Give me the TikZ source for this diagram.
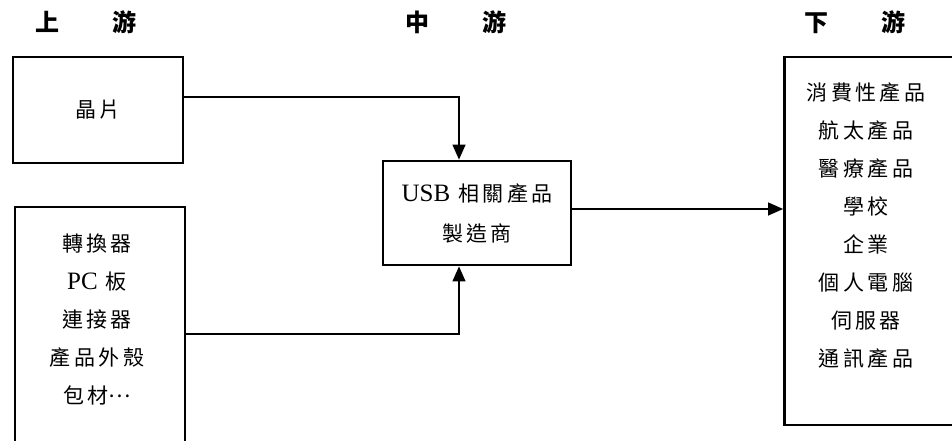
\documentclass[tikz,border=0pt]{standalone}
\usepackage{fontspec}
\setmainfont{Liberation Serif}
\newfontfamily\cjk{Noto Sans CJK TC}
\usepackage{tikz}
\usetikzlibrary{arrows.meta}

\newcommand{\lat}[1]{{\rmfamily\fontsize{25}{38}\selectfont #1}}

\begin{document}
\begin{tikzpicture}
    [x=1pt,y=-1pt,line join=miter,
     box/.style={draw,line width=2.8pt,inner sep=0pt,align=center,
       font=\cjk\addfontfeatures{LetterSpace=16}\fontsize{21}{40}\selectfont},
     flow/.style={line width=1.3pt,-{Triangle[length=15pt,width=13pt]}},
     head/.style={font=\cjk\bfseries\fontsize{24}{24}\selectfont},
     list/.style={align=center,
       font=\cjk\addfontfeatures{LetterSpace=16}\fontsize{21}{38}\selectfont}]

    \clip (0,0) rectangle (952,441);

    % column titles
    \node[head] (up)   at ( 86,22) {上\hspace{53pt}游};
    \node[head] (mid)  at (456,22) {中\hspace{53pt}游};
    \node[head] (down) at (855,22) {下\hspace{53pt}游};

    \node[box,minimum width=170pt,minimum height=106pt] (chip)  at ( 98,110) {晶片};
    \node[box,minimum width=170pt,minimum height=254pt] (parts) at (100,334) {};
    \node[box,minimum width=188pt,minimum height=104pt] (mfr)   at (477,213) {\lat{USB} 相關產品\\製造商};
    \node[box,minimum width=175pt,minimum height=368pt] (users) at (872,241) {};

    \node[list] (partlist) at ( 97,319) {轉換器\\\lat{PC} 板\\連接器\\產品外殼\\包材\raisebox{6pt}{…}};
    \node[list] (userlist) at (866,226) {消費性產品\\航太產品\\醫療產品\\學校\\企業\\個人電腦\\伺服器\\通訊產品};

    \draw[flow] ([yshift=13pt]chip.east) -| ([xshift=-18pt]mfr.north);
    \draw[flow] (parts.east) -| ([xshift=-18pt]mfr.south);
    \draw[flow] ([yshift=4pt]mfr.east) -- ([yshift=4pt]mfr.east -| users.west);
\end{tikzpicture}
\end{document}
